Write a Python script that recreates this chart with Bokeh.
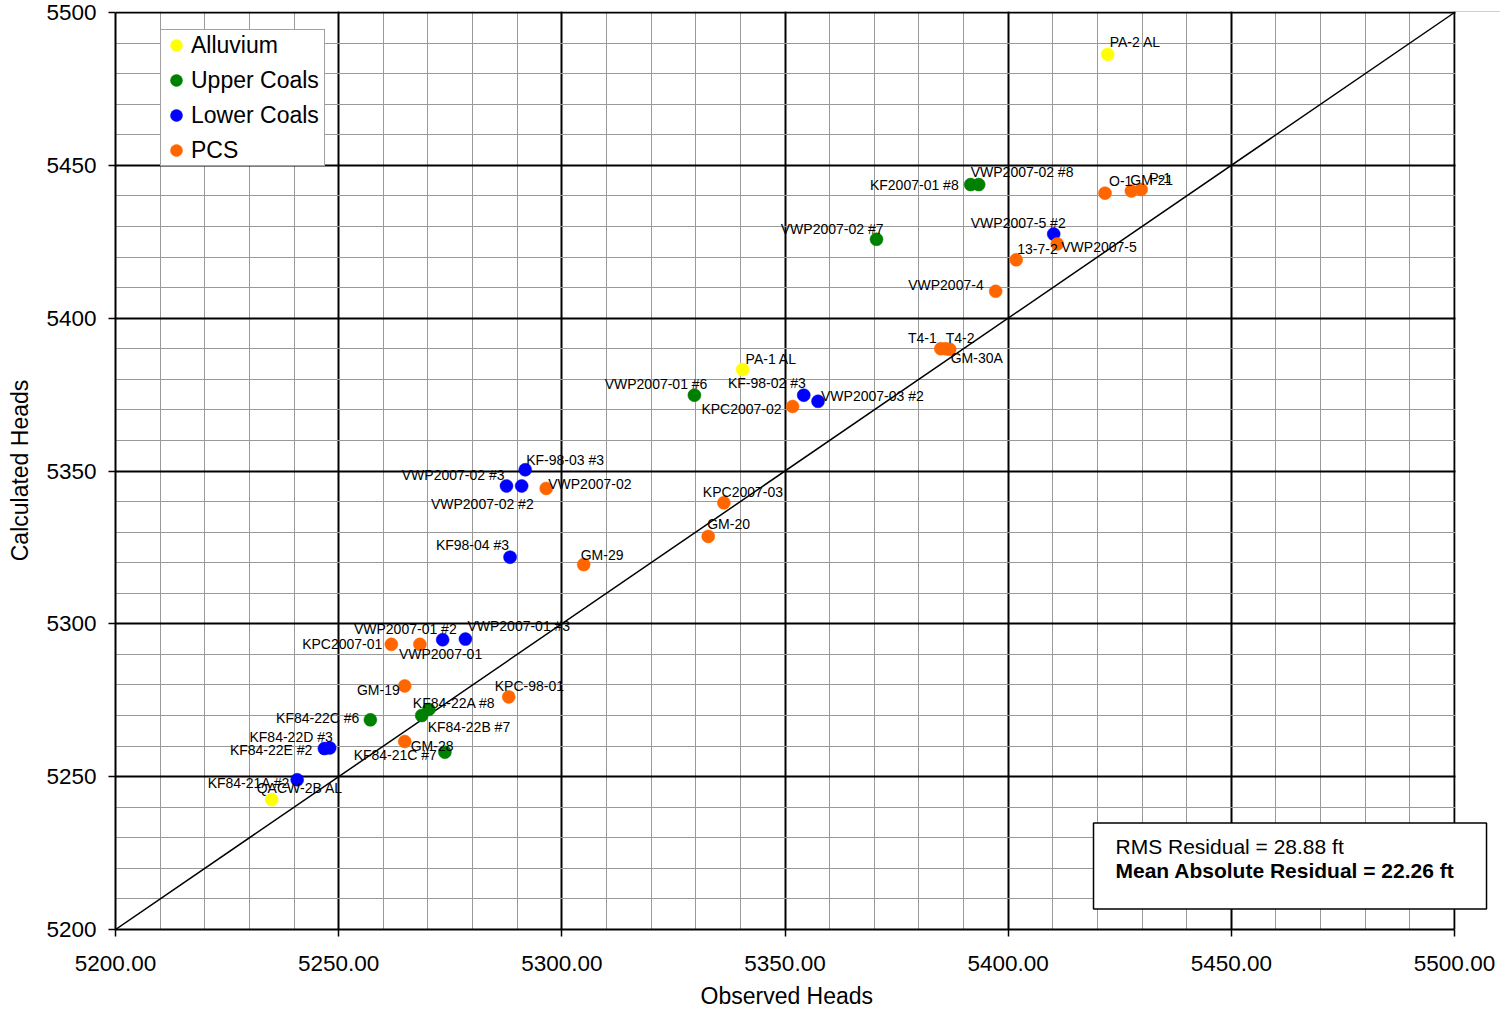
from bokeh.plotting import figure
from bokeh.models import (ColumnDataSource, Legend, LegendItem, Label, BoxAnnotation,
                          Title, SingleIntervalTicker, NumeralTickFormatter)
from bokeh.core.properties import value
from bokeh.embed import file_html
from bokeh.resources import INLINE

# Observed vs calculated heads by unit
alluvium_names = ["PA-2 AL", "PA-1 AL", "QACW-2B AL"]
alluvium_obs = [5422.3, 5340.5, 5235.0]
alluvium_calc = [5486.3, 5383.2, 5242.5]

upper_names = ["KF2007-01 #8", "VWP2007-02 #8", "VWP2007-02 #7", "VWP2007-01 #6",
               "KF84-22C #6", "KF84-22A #8", "KF84-22B #7", "KF84-21C #7"]
upper_obs = [5391.6, 5393.4, 5370.5, 5329.7, 5257.1, 5270.2, 5268.6, 5273.8]
upper_calc = [5443.7, 5443.7, 5425.8, 5374.8, 5268.6, 5272.0, 5270.0, 5258.0]

lower_names = ["VWP2007-5 #2", "KF-98-02 #3", "VWP2007-03 #2", "KF-98-03 #3",
               "VWP2007-02 #3", "VWP2007-02 #2", "KF98-04 #3", "VWP2007-01 #2",
               "VWP2007-01 #3", "KF84-22D #3", "KF84-22E #2", "KF84-21A #2"]
lower_obs = [5410.2, 5354.2, 5357.4, 5291.8, 5287.6, 5291.0, 5288.4, 5273.3,
             5278.4, 5248.0, 5246.8, 5240.7]
lower_calc = [5427.5, 5374.8, 5372.8, 5350.4, 5345.1, 5345.1, 5321.8, 5294.8,
              5295.0, 5259.4, 5259.2, 5249.0]

pcs_names = ["O-1", "GM-21", "P-1", "13-7-2", "VWP2007-5", "VWP2007-4", "T4-1",
             "T4-2", "GM-30A", "KPC2007-02", "VWP2007-02", "KPC2007-03", "GM-20",
             "GM-29", "KPC2007-01", "VWP2007-01", "GM-19", "KPC-98-01", "GM-28"]
pcs_obs = [5421.7, 5427.6, 5429.8, 5401.8, 5411.0, 5397.2, 5384.9, 5386.0,
           5386.9, 5351.7, 5296.5, 5336.3, 5332.8, 5304.9, 5261.8, 5268.2,
           5264.8, 5288.1, 5264.8]
pcs_calc = [5440.9, 5441.6, 5442.1, 5419.1, 5424.3, 5408.8, 5390.0, 5390.0,
            5389.8, 5371.1, 5344.3, 5339.6, 5328.6, 5319.4, 5293.3, 5293.3,
            5279.7, 5276.1, 5261.5]

x_ticks_fmt = "0.00"
x_title = "Observed Heads"
y_title = "Calculated Heads"
rms_text = "RMS Residual = 28.88 ft"
mae_text = "Mean Absolute Residual = 22.26 ft"

# where each well label sits relative to its marker (pixels, alignment)
label_place = {
    "PA-2 AL": (2, -12, "left"), "PA-1 AL": (3, -11, "left"),
    "QACW-2B AL": (-15, -12, "left"),
    "KF2007-01 #8": (-12, 0, "right"), "VWP2007-02 #8": (-8, -13, "left"),
    "VWP2007-02 #7": (7, -10, "right"), "VWP2007-01 #6": (13, -11, "right"),
    "KF84-22C #6": (-11, -2, "right"), "KF84-22A #8": (-16, -6, "left"),
    "KF84-22B #7": (6, 11, "left"), "KF84-21C #7": (-8, 3, "right"),
    "VWP2007-5 #2": (12, -11, "right"), "KF-98-02 #3": (2, -12, "right"),
    "VWP2007-03 #2": (3, -5, "left"), "KF-98-03 #3": (1, -10, "left"),
    "VWP2007-02 #3": (-2, -11, "right"), "VWP2007-02 #2": (12, 18, "right"),
    "KF98-04 #3": (-1, -12, "right"), "VWP2007-01 #2": (14, -11, "right"),
    "VWP2007-01 #3": (2, -13, "left"), "KF84-22D #3": (3, -11, "right"),
    "KF84-22E #2": (-12, 1, "right"), "KF84-21A #2": (-7, 3, "right"),
    "O-1": (4, -12, "left"), "GM-21": (-1, -11, "left"), "P-1": (8, -11, "left"),
    "13-7-2": (1, -11, "left"), "VWP2007-5": (4, 3, "left"),
    "VWP2007-4": (-12, -6, "right"), "T4-1": (-4, -11, "right"),
    "T4-2": (0, -11, "left"), "GM-30A": (1, 9, "left"),
    "KPC2007-02": (-11, 2, "right"), "VWP2007-02": (2, -4, "left"),
    "KPC2007-03": (-21, -11, "left"), "GM-20": (-1, -12, "left"),
    "GM-29": (-3, -10, "left"), "KPC2007-01": (-9, 0, "right"),
    "VWP2007-01": (-21, 10, "left"), "GM-19": (-5, 4, "right"),
    "KPC-98-01": (-14, -11, "left"), "GM-28": (6, 4, "left"),
}

FONT = "Liberation Sans"
X_MAX = 5500.0
Y_MAX = 5500.0
PX_PER_X = 1339 / 300.0
PX_PER_Y = 917 / 300.0
# the frame runs a little past 5500 so the statistics box can overhang the axes,
# and one pixel above 5500 so the top edge line is drawn at full width
X_PAD = 46 / PX_PER_X
Y_PAD = 1 / PX_PER_Y

p = figure(width=1500, height=1015, x_range=(5200, X_MAX + X_PAD),
           y_range=(5200, Y_MAX + Y_PAD), output_backend="svg",
           toolbar_location=None, min_border_left=115, min_border_right=0,
           min_border_top=11, min_border_bottom=86)
p.background_fill_color = "white"
p.border_fill_color = "white"
p.outline_line_color = None

for ax in (p.xaxis[0], p.yaxis[0]):
    ax.ticker = SingleIntervalTicker(interval=50, num_minor_ticks=5)
    ax.bounds = (5200, 5500)
    ax.axis_line_color = "black"
    ax.axis_line_width = 2
    ax.major_tick_line_color = "black"
    ax.major_tick_line_width = 1.5
    ax.major_tick_out = 7
    ax.major_tick_in = 0
    ax.minor_tick_out = 0
    ax.minor_tick_in = 0
    ax.major_label_text_font = FONT
    ax.major_label_text_font_size = "22.5px"
    ax.major_label_text_color = "black"
    ax.axis_label_text_font = FONT
    ax.axis_label_text_font_size = "23px"
    ax.axis_label_text_font_style = "normal"
    ax.axis_label_text_color = "black"

p.xaxis.formatter = NumeralTickFormatter(format=x_ticks_fmt)
p.yaxis.formatter = NumeralTickFormatter(format="0")
p.yaxis.axis_label = y_title
p.xaxis.major_label_standoff = 19
p.yaxis.major_label_standoff = 12
p.yaxis.axis_label_standoff = 10

# x-axis title centred under the 5200-5500 span rather than the whole frame
p.add_layout(Title(text=x_title, align="left", offset=585,
                   text_font=FONT, text_font_size="23px", text_font_style="normal",
                   text_color="black", standoff=14), "below")

for g in (p.xgrid[0], p.ygrid[0]):
    g.ticker = SingleIntervalTicker(interval=50, num_minor_ticks=5)
    g.grid_line_color = "black"
    g.grid_line_width = 2
    g.minor_grid_line_color = "#999999"
    g.minor_grid_line_width = 1

# blank strip beyond the 5500 edge
p.add_layout(BoxAnnotation(left=X_MAX + 0.25, right=X_MAX + X_PAD + 1,
                           fill_color="white", fill_alpha=1, line_color=None,
                           level="annotation"))

# one-to-one line
p.line([5200, 5500], [5200, 5500], line_color="black", line_width=1.5)

series = [
    ("Alluvium", "#FFFF00", alluvium_names, alluvium_obs, alluvium_calc),
    ("Upper Coals", "#008000", upper_names, upper_obs, upper_calc),
    ("Lower Coals", "#0000FF", lower_names, lower_obs, lower_calc),
    ("PCS", "#FF6600", pcs_names, pcs_obs, pcs_calc),
]

items = []
lab_x, lab_y, lab_t, lab_dx, lab_dy, lab_al = [], [], [], [], [], []
for name, color, names, xs, ys in series:
    src = ColumnDataSource(dict(x=xs, y=ys, name=names))
    r = p.scatter("x", "y", source=src, size=13, fill_color=color,
                  line_color=color, line_width=0.5)
    items.append(LegendItem(label=name, renderers=[r]))
    for n, xv, yv in zip(names, xs, ys):
        dx, dy, al = label_place[n]
        lab_x.append(xv)
        lab_y.append(yv)
        lab_t.append(n)
        lab_dx.append(dx)
        lab_dy.append(dy)
        lab_al.append(al)

lab_src = ColumnDataSource(dict(x=lab_x, y=lab_y, t=lab_t, dx=lab_dx,
                                dy=lab_dy, al=lab_al))
p.text("x", "y", text="t", source=lab_src, x_offset="dx", y_offset="dy",
       text_align="al", text_baseline="middle", text_font_size="14px",
       text_font=value(FONT), text_color="black")

legend = Legend(items=items, location=(45, 763), orientation="vertical",
                label_text_font=FONT, label_text_font_size="23px",
                label_text_color="black", glyph_width=30, glyph_height=30,
                label_height=30, label_width=133, label_standoff=0, spacing=5,
                padding=0, margin=0, border_line_color="#444444",
                border_line_width=1, background_fill_color="white",
                background_fill_alpha=1)
p.add_layout(legend, "center")

# residual statistics box
box = Label(x=5419.12, y=5220.77, text=mae_text, text_font=FONT,
            text_font_size="21px", text_font_style="bold", text_color="black",
            text_baseline="middle", text_align="left",
            border_line_color="black", border_line_width=1.5,
            background_fill_color="white", background_fill_alpha=1,
            padding=dict(left=22, right=32, top=36, bottom=27))
p.add_layout(box)
rms = Label(x=5424.05, y=5227.15, text=rms_text, text_font=FONT,
            text_font_size="21px", text_color="black",
            text_baseline="middle", text_align="left")
p.add_layout(rms)

open("out.html", "w").write(file_html(p, INLINE))
